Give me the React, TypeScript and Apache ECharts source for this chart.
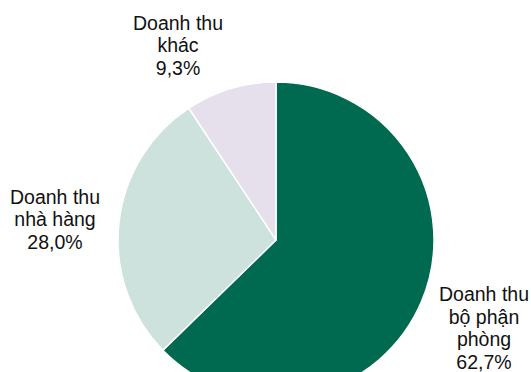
import React, { useEffect, useRef } from "react";
import * as echarts from "echarts";

const categories = ["Doanh thu\nbộ phận\nphòng", "Doanh thu\nnhà hàng", "Doanh thu\nkhác"];
const values = [62.7, 28.0, 9.3];
const colors = ["#006A50", "#CDE2DC", "#E5E0EC"];
const labelPos = [
  [484, 328],
  [55, 219],
  [178, 45],
];

export default function App() {
  const ref = useRef<HTMLDivElement>(null);
  useEffect(() => {
    if (!ref.current) return;
    const chart = echarts.init(ref.current, null, { renderer: "svg" });
    chart.setOption({
      animation: false,
      backgroundColor: "#ffffff",
      series: [
        {
          type: "pie",
          center: [276, 240],
          radius: 158,
          startAngle: 90,
          clockwise: true,
          data: categories.map((c, i) => ({
            name: c,
            value: values[i],
            itemStyle: { color: colors[i] },
          })),
          itemStyle: { borderColor: "#ffffff", borderWidth: 1.5 },
          label: {
            show: true,
            position: "outside",
            formatter: (p: any) => `${p.name}\n${p.value.toFixed(1).replace(".", ",")}%`,
            fontFamily: "Liberation Sans, Arial, sans-serif",
            fontSize: 19.5,
            lineHeight: 22.5,
            color: "#111111",
            align: "center",
            overflow: "none",
            alignTo: "none",
          },
          labelLine: { show: false },
          labelLayout: (params: any) => ({
            x: labelPos[params.dataIndex][0],
            y: labelPos[params.dataIndex][1],
            align: "center",
            verticalAlign: "middle",
            hideOverlap: false,
          }),
          emphasis: { disabled: true },
        },
      ],
    });
    return () => chart.dispose();
  }, []);
  return <div ref={ref} style={{ width: 531, height: 372, position: "absolute", left: 0, top: 0 }} />;
}
